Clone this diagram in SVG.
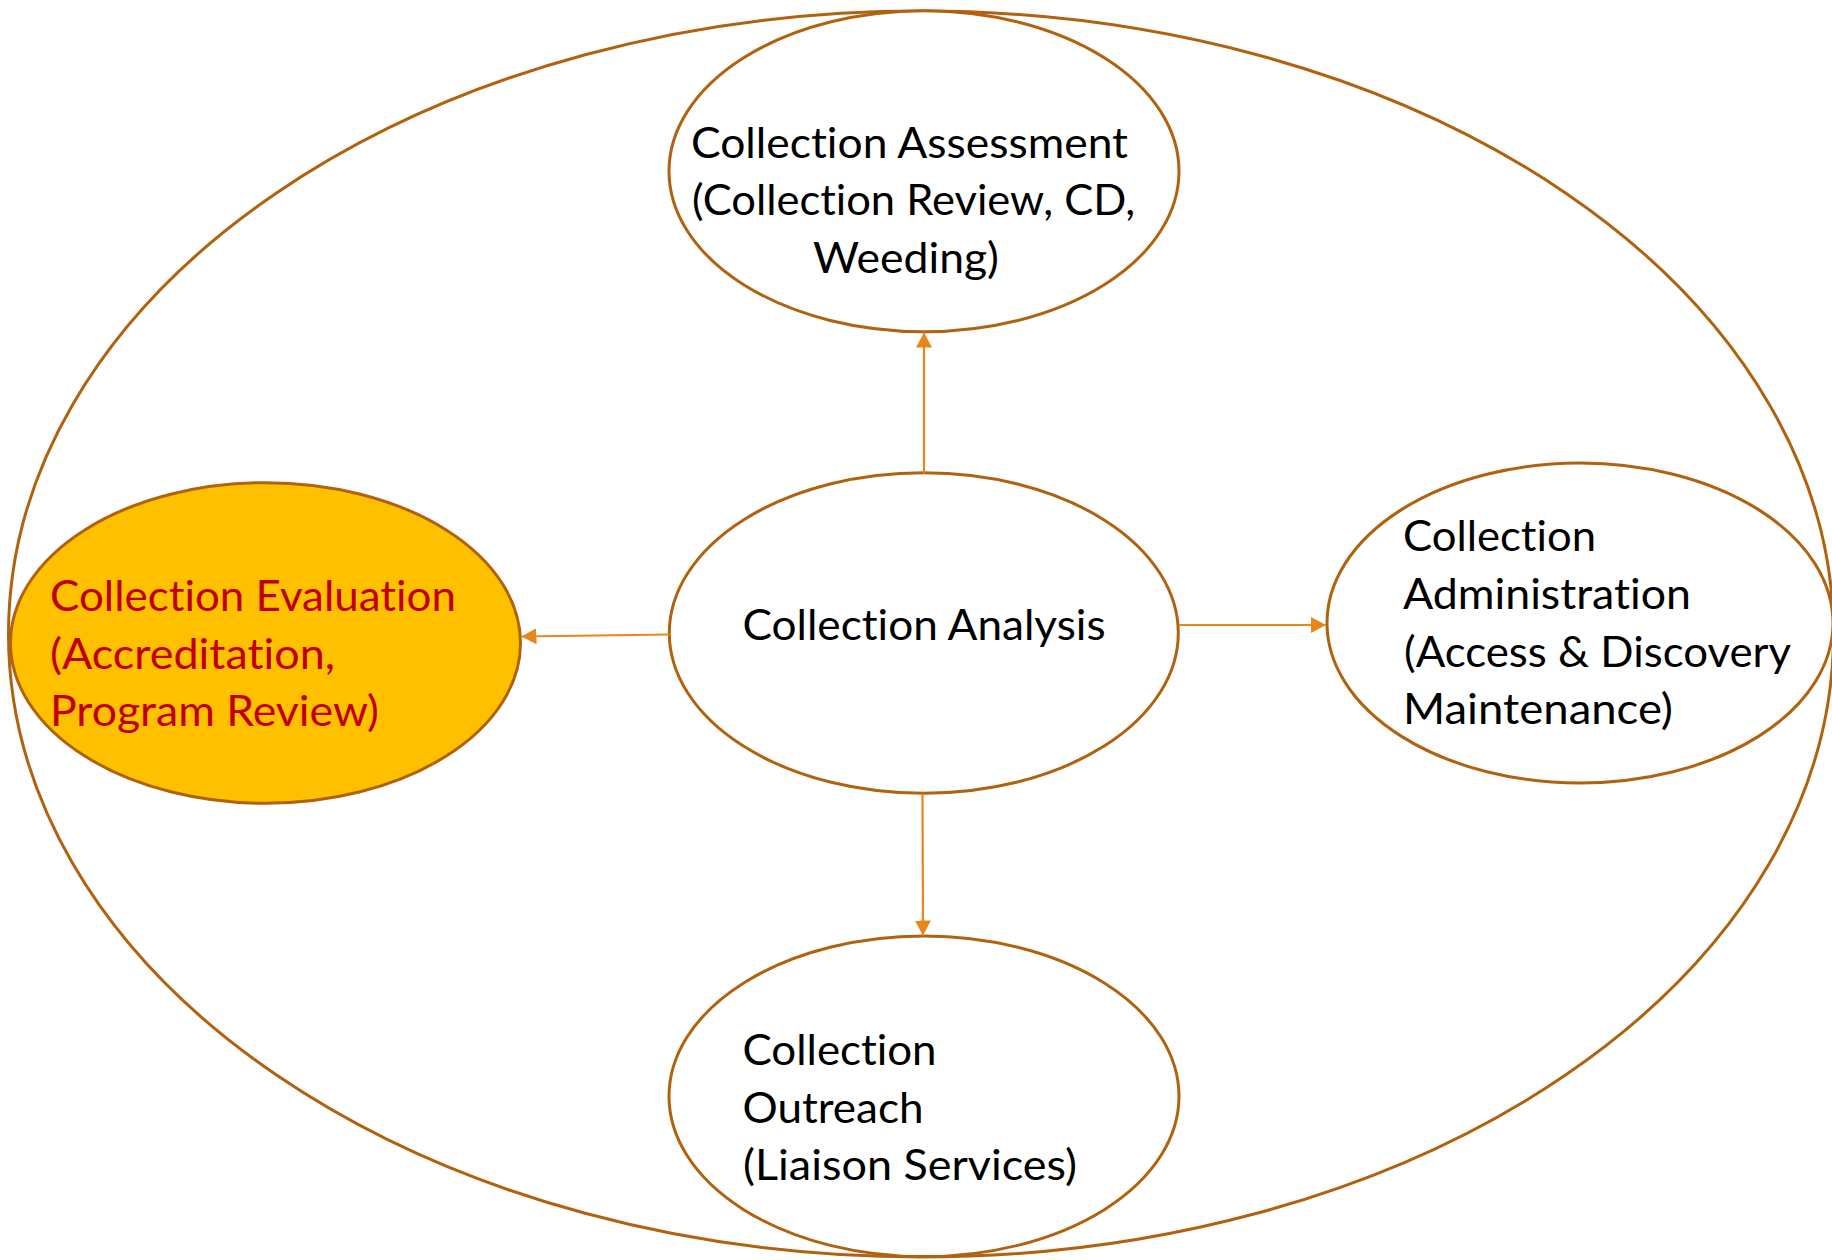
<svg xmlns="http://www.w3.org/2000/svg" width="1832" height="1260" viewBox="0 0 1832 1260">
  <defs>
    <marker id="arrow" markerUnits="userSpaceOnUse" markerWidth="16" markerHeight="16" refX="15" refY="8" orient="auto">
      <path d="M0,0 L15,8 L0,16 z" fill="#E8861A"/>
    </marker>
    <style>
      .node { fill: #FFFFFF; stroke: #B0620F; stroke-width: 3; }
      .hl { fill: #FFC000; stroke: #B0620F; stroke-width: 3; }
      .outer { fill: none; stroke: #B0620F; stroke-width: 3; }
      .conn { stroke: #E8861A; stroke-width: 2.2; fill: none; marker-end: url(#arrow); }
      .t { font-family: Lato, "Liberation Sans", sans-serif; font-size: 42px; fill: #000000; font-variant-ligatures: none; font-feature-settings: "liga" 0, "clig" 0; }
      .r { fill: #C00000; }
    </style>
  </defs>
  <rect width="1832" height="1260" fill="#FFFFFF"/>

  <g id="outer">
    <ellipse class="outer" cx="921" cy="634" rx="912.5" ry="623"/>
  </g>

  <g id="node-evaluation">
    <ellipse class="hl" cx="265.5" cy="643" rx="255" ry="160.3"/>
    <text class="t r" x="50" y="611" textLength="406" lengthAdjust="spacingAndGlyphs">Collection Evaluation</text>
    <text class="t r" x="50" y="669" textLength="285" lengthAdjust="spacingAndGlyphs">(Accreditation,</text>
    <text class="t r" x="50" y="726" textLength="329" lengthAdjust="spacingAndGlyphs">Program Review)</text>
  </g>

  <g id="node-assessment">
    <ellipse class="node" cx="924" cy="171.2" rx="255" ry="160.5"/>
    <text class="t" x="691" y="157.5" textLength="437" lengthAdjust="spacingAndGlyphs">Collection Assessment</text>
    <text class="t" x="692" y="214.5" textLength="443" lengthAdjust="spacingAndGlyphs">(Collection Review, CD,</text>
    <text class="t" x="813" y="272.5" textLength="186" lengthAdjust="spacingAndGlyphs">Weeding)</text>
  </g>

  <g id="node-analysis">
    <ellipse class="node" cx="923.8" cy="633" rx="254.5" ry="160.3"/>
    <text class="t" x="742.5" y="640" textLength="363" lengthAdjust="spacingAndGlyphs">Collection Analysis</text>
  </g>

  <g id="node-administration">
    <ellipse class="node" cx="1580" cy="623" rx="253" ry="160"/>
    <text class="t" x="1403" y="551" textLength="193" lengthAdjust="spacingAndGlyphs">Collection</text>
    <text class="t" x="1403" y="608.5" textLength="288" lengthAdjust="spacingAndGlyphs">Administration</text>
    <text class="t" x="1404" y="667" textLength="387" lengthAdjust="spacingAndGlyphs">(Access &amp; Discovery</text>
    <text class="t" x="1403" y="724" textLength="270" lengthAdjust="spacingAndGlyphs">Maintenance)</text>
  </g>

  <g id="node-outreach">
    <ellipse class="node" cx="924" cy="1096.3" rx="255" ry="160.3"/>
    <text class="t" x="742.5" y="1065" textLength="194" lengthAdjust="spacingAndGlyphs">Collection</text>
    <text class="t" x="742.5" y="1122.5" textLength="181" lengthAdjust="spacingAndGlyphs">Outreach</text>
    <text class="t" x="743" y="1180" textLength="334" lengthAdjust="spacingAndGlyphs">(Liaison Services)</text>
  </g>

  <g id="connectors">
    <line class="conn" x1="924" y1="473" x2="924" y2="332.5"/>
    <line class="conn" x1="922.5" y1="793.5" x2="923" y2="935.5"/>
    <line class="conn" x1="669.5" y1="634.5" x2="521.5" y2="636.5"/>
    <line class="conn" x1="1179" y1="625" x2="1326" y2="625"/>
  </g>
</svg>
